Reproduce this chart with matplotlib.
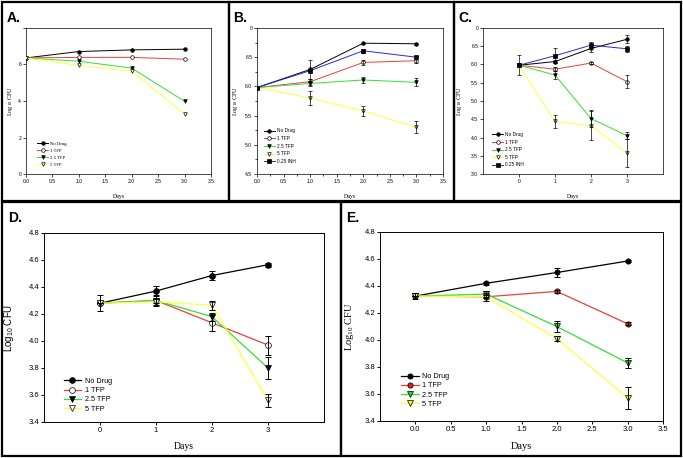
import matplotlib
matplotlib.use('Agg')
import matplotlib.pyplot as plt
from matplotlib.patches import Rectangle
from matplotlib.ticker import MultipleLocator, FormatStrFormatter

plt.rcParams['font.family'] = ['Liberation Sans', 'DejaVu Sans']
plt.rcParams['mathtext.default'] = 'regular'

W, H = 683, 458
days = [0, 1, 2, 3]

# panel A
a_nodrug = [6.36, 6.71, 6.80, 6.84]
a_tfp1 = [6.36, 6.39, 6.39, 6.29]
a_tfp25 = [6.36, 6.18, 5.80, 3.98]
a_tfp5 = [6.36, 5.95, 5.63, 3.29]

# panel B
b_nodrug = [5.98, 6.29, 6.74, 6.73]
b_nodrug_err = [0, 0.17, 0.01, 0.02]
b_tfp1 = [5.98, 6.08, 6.41, 6.44]
b_tfp1_err = [0, 0.05, 0.04, 0.04]
b_tfp25 = [5.98, 6.05, 6.11, 6.07]
b_tfp25_err = [0, 0.04, 0.05, 0.07]
b_tfp5 = [5.98, 5.80, 5.58, 5.30]
b_tfp5_err = [0, 0.12, 0.08, 0.10]
b_inh = [5.98, 6.27, 6.61, 6.50]
b_inh_err = [0, 0.03, 0.03, 0.02]

# panel C
c_nodrug = [5.98, 6.08, 6.44, 6.69]
c_nodrug_err = [0.28, 0.05, 0.10, 0.11]
c_tfp1 = [5.98, 5.87, 6.04, 5.53]
c_tfp1_err = [0, 0.05, 0.02, 0.17]
c_tfp25 = [5.98, 5.71, 4.52, 4.05]
c_tfp25_err = [0, 0.11, 0.22, 0.10]
c_tfp5 = [5.98, 4.44, 4.32, 3.58]
c_tfp5_err = [0, 0.18, 0.40, 0.38]
c_inh = [5.98, 6.24, 6.53, 6.43]
c_inh_err = [0, 0.20, 0.09, 0.08]

# panel D
d_nodrug = [4.28, 4.37, 4.485, 4.565]
d_nodrug_err = [0.06, 0.035, 0.03, 0.015]
d_tfp1 = [4.28, 4.30, 4.135, 3.97]
d_tfp1_err = [0, 0.02, 0.06, 0.07]
d_tfp25 = [4.28, 4.30, 4.18, 3.80]
d_tfp25_err = [0, 0.04, 0.03, 0.08]
d_tfp5 = [4.28, 4.29, 4.265, 3.56]
d_tfp5_err = [0, 0.02, 0.035, 0.05]

# panel E
e_nodrug = [4.325, 4.42, 4.50, 4.585]
e_nodrug_err = [0.02, 0.012, 0.03, 0.01]
e_tfp1 = [4.325, 4.32, 4.36, 4.12]
e_tfp1_err = [0, 0.01, 0.01, 0.01]
e_tfp25 = [4.325, 4.34, 4.10, 3.83]
e_tfp25_err = [0, 0.02, 0.04, 0.04]
e_tfp5 = [4.325, 4.32, 4.01, 3.57]
e_tfp5_err = [0, 0.03, 0.02, 0.08]

labels5 = ['No Drug', '1 TFP', '2.5 TFP', '5 TFP', '0.25 INH']

line_colors = ['black', '#e8403a', '#33e033', '#ffff40', '#2a2ad0']
bw_markers = [('o', 'black'), ('o', 'white'), ('v', 'black'), ('v', 'white'), ('s', 'black')]
col_markers = [('o', 'black'), ('o', '#d82020'), ('v', '#30d030'), ('v', '#f0f020')]

fig = plt.figure(figsize=(W / 100, H / 100), dpi=100)


def px(l, t, r, b):
    return [l / W, 1 - b / H, (r - l) / W, (b - t) / H]


def draw(ax, ys, errs, markers, ms, lw, elw, cap):
    for i, y in enumerate(ys):
        m, face = markers[i]
        ax.plot(days, y, color=line_colors[i], lw=lw, marker=m, mfc=face,
                mec='black', mew=0.5, ms=ms, label=labels5[i], zorder=3)
        if errs is not None:
            ax.errorbar(days, y, yerr=errs[i], fmt='none', ecolor='black',
                        elinewidth=elw, capsize=cap, capthick=elw, zorder=4)


def style(ax, tfs, lw):
    for s in ax.spines.values():
        s.set_linewidth(lw)
    ax.tick_params(labelsize=tfs, width=lw, length=2, pad=1.5)
    ax.tick_params(which='minor', width=lw, length=1.2)


def panel_box(l, t, r, b):
    fig.patches.append(Rectangle((l / W, 1 - b / H), (r - l) / W, (b - t) / H,
                                 transform=fig.transFigure, fill=False,
                                 lw=1.6, ec='black'))


panel_box(2, 2, 229, 201)
panel_box(229, 2, 454, 201)
panel_box(454, 2, 681, 201)
panel_box(2, 202, 341, 456)
panel_box(341, 202, 681, 456)

small = 3.6
serif = ['Liberation Serif', 'DejaVu Serif']
leg_small = dict(loc='lower left', frameon=False, handlelength=2.4,
                 handletextpad=0.4, labelspacing=0.55, borderpad=0,
                 borderaxespad=0)

# A
ax = fig.add_axes(px(26, 28, 211, 174))
draw(ax, [a_nodrug, a_tfp1, a_tfp25, a_tfp5], None, bw_markers, 2.6, 0.7, 0.5, 1)
ax.set_xlim(0, 3.5)
ax.set_ylim(0, 8)
ax.set_yticks([0, 2, 4, 6, 8])
ax.set_yticklabels(['0', '2', '4', '6', ''])
ax.xaxis.set_major_locator(MultipleLocator(0.5))
style(ax, small, 0.5)
ax.set_xlabel('Days', family=serif, fontsize=4.2)
ax.xaxis.set_label_coords(0.5, -0.135)
ax.set_ylabel('Log$_{10}$ CFU', family=serif, fontsize=4.5)
ax.yaxis.set_label_coords(-0.06, 0.5)
ax.legend(bbox_to_anchor=(0.06, 0.05), prop={'family': serif, 'size': 3.4}, **leg_small)
fig.text(7 / W, 1 - 18 / H, 'A.', fontsize=10, fontweight='bold', va='center')

# B
ax = fig.add_axes(px(257, 28, 443, 174))
draw(ax, [b_nodrug, b_tfp1, b_tfp25, b_tfp5, b_inh],
     [b_nodrug_err, b_tfp1_err, b_tfp25_err, b_tfp5_err, b_inh_err],
     bw_markers, 2.6, 0.7, 0.5, 1.3)
ax.set_xlim(0, 3.5)
ax.set_ylim(4.5, 7.0)
ax.set_yticks([4.5, 5.0, 5.5, 6.0, 6.5, 7.0])
ax.set_yticklabels(['4.5', '5.0', '5.5', '6.0', '6.5', '0'])
ax.yaxis.set_minor_locator(MultipleLocator(0.25))
ax.xaxis.set_major_locator(MultipleLocator(0.5))
ax.xaxis.set_minor_locator(MultipleLocator(0.25))
style(ax, small, 0.5)
ax.set_xlabel('Days', family=serif, fontsize=4.2)
ax.xaxis.set_label_coords(0.5, -0.135)
ax.set_ylabel('Log$_{10}$ CFU', family=serif, fontsize=4.5)
ax.yaxis.set_label_coords(-0.09, 0.5)
ax.legend(bbox_to_anchor=(0.035, 0.07), fontsize=3.4, **leg_small)
fig.text(233 / W, 1 - 18 / H, 'B.', fontsize=10, fontweight='bold', va='center')

# C
ax = fig.add_axes(px(483, 28, 663, 174))
draw(ax, [c_nodrug, c_tfp1, c_tfp25, c_tfp5, c_inh],
     [c_nodrug_err, c_tfp1_err, c_tfp25_err, c_tfp5_err, c_inh_err],
     bw_markers, 2.6, 0.7, 0.5, 1.3)
ax.set_xlim(-1, 4)
ax.set_ylim(3.0, 7.0)
ax.set_xticks(days)
ax.set_yticks([3.0, 3.5, 4.0, 4.5, 5.0, 5.5, 6.0, 6.5, 7.0])
ax.set_yticklabels(['3.0', '3.5', '4.0', '4.5', '5.0', '5.5', '6.0', '6.5', '0'])
style(ax, small, 0.5)
ax.set_xlabel('Days', family=serif, fontsize=4.2)
ax.xaxis.set_label_coords(0.5, -0.135)
ax.set_ylabel('Log$_{10}$ CFU', family=serif, fontsize=4.5)
ax.yaxis.set_label_coords(-0.105, 0.5)
ax.legend(bbox_to_anchor=(0.05, 0.045), fontsize=3.4, **leg_small)
fig.text(458 / W, 1 - 18 / H, 'C.', fontsize=10, fontweight='bold', va='center')

# D
ax = fig.add_axes(px(44, 233, 324, 422))
draw(ax, [d_nodrug, d_tfp1, d_tfp25, d_tfp5],
     [d_nodrug_err, d_tfp1_err, d_tfp25_err, d_tfp5_err],
     bw_markers, 4.2, 0.9, 0.7, 2)
ax.set_xlim(-1, 4)
ax.set_ylim(3.4, 4.8)
ax.set_xticks(days)
ax.yaxis.set_major_locator(MultipleLocator(0.2))
ax.yaxis.set_major_formatter(FormatStrFormatter('%.1f'))
style(ax, 5.5, 0.7)
ax.set_xlabel('Days', family=serif, fontsize=7)
ax.xaxis.set_label_coords(0.5, -0.105)
ax.set_ylabel('Log$_{10}$ CFU', fontsize=7)
ax.yaxis.set_label_coords(-0.1, 0.5)
ax.legend(loc='lower left', bbox_to_anchor=(0.07, 0.05), frameon=False,
          fontsize=5.2, handlelength=2.4, handletextpad=0.5, labelspacing=0.3,
          borderpad=0, borderaxespad=0)
fig.text(8 / W, 1 - 218 / H, 'D.', fontsize=10, fontweight='bold', va='center')

# E
ax = fig.add_axes(px(380, 232, 663, 421))
draw(ax, [e_nodrug, e_tfp1, e_tfp25, e_tfp5],
     [e_nodrug_err, e_tfp1_err, e_tfp25_err, e_tfp5_err],
     col_markers, 3.8, 0.9, 0.7, 2)
ax.set_xlim(-0.5, 3.5)
ax.set_ylim(3.4, 4.8)
ax.set_xticks([0, 0.5, 1.0, 1.5, 2.0, 2.5, 3.0, 3.5])
ax.xaxis.set_major_formatter(FormatStrFormatter('%.1f'))
ax.yaxis.set_major_locator(MultipleLocator(0.2))
ax.yaxis.set_major_formatter(FormatStrFormatter('%.1f'))
style(ax, 5.5, 0.7)
ax.set_xlabel('Days', family=serif, fontsize=7.5)
ax.xaxis.set_label_coords(0.5, -0.11)
ax.set_ylabel('Log$_{10}$ CFU', family=serif, fontsize=7.5)
ax.yaxis.set_label_coords(-0.085, 0.5)
ax.legend(loc='lower left', bbox_to_anchor=(0.075, 0.07), frameon=False,
          fontsize=5.2, handlelength=2.4, handletextpad=0.5, labelspacing=0.3,
          borderpad=0, borderaxespad=0)
fig.text(346 / W, 1 - 218 / H, 'E.', fontsize=10, fontweight='bold', va='center')

fig.savefig('out.png', dpi=100)
